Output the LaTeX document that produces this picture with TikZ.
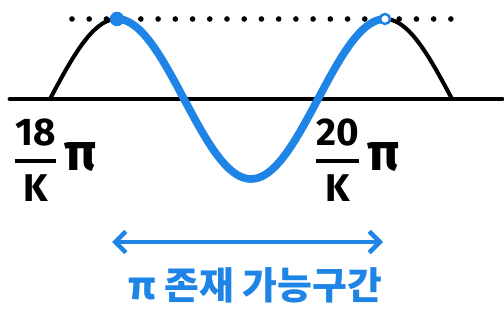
\documentclass[tikz,border=0pt]{standalone}
\usepackage{amsmath}
\usepackage{fontspec}
\usepackage{tikz}
\usetikzlibrary{arrows.meta,positioning}
\newfontfamily\kofont{Noto Sans CJK KR}
\newfontfamily\numfont{Fira Sans}
\definecolor{skyblue}{RGB}{30,132,230}
\newcommand{\wave}[1]{4.46+1.6*sin(360*(#1-1.0)/5.36)}
\newcommand{\kfrac}[1]{$\genfrac{}{}{2.2pt}{0}{\text{#1}}{\text{K}}$\,{\fontsize{30}{30}\selectfont π}}

\begin{document}
\begin{tikzpicture}[
  axisline/.style={line width=2.8pt, line cap=round},
  arc/.style={line width=#1, smooth, samples=50, line cap=round},
  arc/.default=2.3pt,
  bound/.style={font=\numfont\bfseries\fontsize{22}{26}\selectfont, inner sep=1pt},
  ptdot/.style={circle, draw=skyblue, line width=1.4pt, inner sep=0pt, minimum size=#1},
  lab/.style={font=\kofont\bfseries\fontsize{21.5}{26}\selectfont, text=skyblue, inner sep=1pt}]
  \useasboundingbox (0,0) rectangle (10.08,6.44);
  % axis and maximum line
  \coordinate (axL) at (0.2,4.46);
  \coordinate (axR) at (10.04,4.46);
  \draw[axisline] (axL) -- (axR);
  \coordinate (dotL) at (1.44,6.06);
  \coordinate (dotR) at (9.12,6.06);
  \draw[line width=3.2pt, line cap=round, dash pattern=on 0pt off 9.8pt] (dotL) -- (dotR);
  % the sine curve
  \draw[arc, domain=1.0:2.34] plot (\x, {\wave{\x}});
  \draw[arc, domain=7.70:9.04] plot (\x, {\wave{\x}});
  \draw[arc=4.4pt, skyblue, domain=2.34:7.70] plot (\x, {\wave{\x}});
  % end points
  \node[ptdot=0.24cm, fill=skyblue] (pkL) at (2.34,6.06) {};
  \node[ptdot=0.2cm, fill=white] (pkR) at (7.70,6.06) {};
  % bounds
  \node[bound] (lo) at (1.1,3.24) {\kfrac{18}};
  \node[bound] (hi) at (7.14,3.24) {\kfrac{20}};
  % range of pi
  \coordinate (rgL) at (2.24,1.6);
  \coordinate (rgR) at (7.66,1.6);
  \draw[{Straight Barb[length=6pt,width=12pt]}-{Straight Barb[length=6pt,width=12pt]}, skyblue, line width=2.6pt, line cap=round] (rgL) -- (rgR);
  \node[lab] (rng) at (5.1,0.74) {π 존재 가능구간};
\end{tikzpicture}
\end{document}
